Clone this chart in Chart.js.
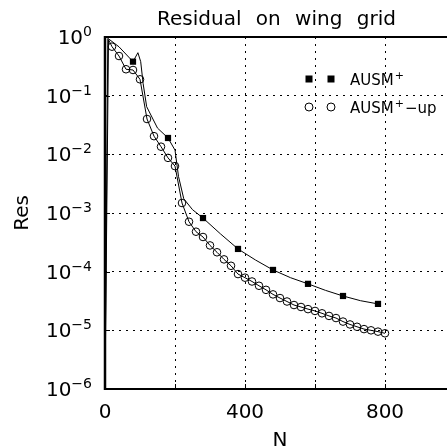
<!DOCTYPE html>
<html>
<head>
<meta charset="utf-8">
<script src="https://cdn.jsdelivr.net/npm/chart.js@4.4.1/dist/chart.umd.min.js"></script>
<style>
  html, body { margin: 0; padding: 0; background: #fff; overflow: hidden; }
  #wrap { position: relative; width: 470px; height: 448px; }
</style>
</head>
<body>
<div id="wrap"><canvas id="resChart" width="470" height="448"></canvas></div>
<script>
// Data
const titleText = 'Residual on wing grid';
const xTitle = 'N';
const yTitle = 'Res';
const xLabels = [0, 400, 800];
const yDecades = [1e-6, 1e-5, 1e-4, 1e-3, 1e-2, 1e-1, 1e0];

// AUSM+ : continuous curve, square markers every 100 iterations
const ausmN   = [0, 8, 40, 80, 94, 102, 109, 119, 150, 180, 200, 210, 225, 250, 280, 330, 380, 430, 480, 530, 580, 630, 680, 730, 780];
const ausmRes = [1e-6, 0.95, 0.68, 0.38, 0.54, 0.38, 0.16, 0.065, 0.028, 0.019, 0.0118, 0.0042, 0.00175, 0.00114, 0.00082,
                 0.00044, 0.000244, 0.000158, 0.000107, 0.000079, 0.000062, 0.000048, 0.0000385, 0.000032, 0.0000282];
const ausmMarked = [80, 180, 280, 380, 480, 580, 680, 780];

// AUSM+-up : circles every 20 iterations
const upN   = [0, 10, 20, 40, 60, 80, 100, 120, 140, 160, 180, 200, 220, 240, 260, 280, 300, 320, 340, 360, 380, 400,
               420, 440, 460, 480, 500, 520, 540, 560, 580, 600, 620, 640, 660, 680, 700, 720, 740, 760, 780, 800];
const upRes = [1e-6, 0.9, 0.684, 0.474, 0.282, 0.274, 0.19, 0.040, 0.0204, 0.0135, 0.0087, 0.0063, 0.00148, 0.00071,
               0.00048, 0.00039, 0.00028, 0.000214, 0.000162, 0.000126, 0.000091, 0.000079, 0.000068, 0.0000575,
               0.000049, 0.000041, 0.0000355, 0.000031, 0.000027, 0.000025, 0.000023, 0.0000214, 0.0000195,
               0.0000176, 0.0000162, 0.0000141, 0.0000126, 0.0000115, 0.0000105, 0.00001, 0.0000095, 0.0000089];

const FONT = '"DejaVu Sans", sans-serif';

function toPoints(xs, ys) {
    return xs.map((v, i) => ({ x: v, y: ys[i] }));
}

// draws the frame, tick labels, titles and legend
const decorPlugin = {
    id: 'decor',
    afterDraw(chart) {
        const { ctx, chartArea: a, scales } = chart;
        const xs = scales.x, ys = scales.y;
        ctx.save();
        ctx.strokeStyle = '#000';
        ctx.fillStyle = '#000';
        ctx.setLineDash([]);

        // frame (right side falls outside the window)
        ctx.lineWidth = 2;
        ctx.beginPath();
        ctx.moveTo(a.left, a.top); ctx.lineTo(a.right, a.top);
        ctx.moveTo(a.left, a.bottom); ctx.lineTo(a.right, a.bottom);
        ctx.stroke();
        ctx.lineWidth = 2.5;
        ctx.beginPath();
        ctx.moveTo(a.left, a.top - 1); ctx.lineTo(a.left, a.bottom + 1);
        ctx.stroke();

        // small inward ticks
        ctx.lineWidth = 1;
        ctx.beginPath();
        yDecades.forEach(v => {
            const py = Math.round(ys.getPixelForValue(v)) + 0.5;
            ctx.moveTo(a.left, py); ctx.lineTo(a.left + 5, py);
        });
        [200, 400, 600, 800].forEach(v => {
            const px = Math.round(xs.getPixelForValue(v)) + 0.5;
            ctx.moveTo(px, a.bottom); ctx.lineTo(px, a.bottom - 5);
        });
        ctx.stroke();

        // y tick labels 10^n
        ctx.textBaseline = 'alphabetic';
        yDecades.forEach(v => {
            const py = ys.getPixelForValue(v);
            const e = Math.round(Math.log10(v));
            const expText = e < 0 ? '\u2212' + (-e) : String(e);
            ctx.font = '14px ' + FONT;
            ctx.textAlign = 'right';
            ctx.fillText(expText, 92, py - 1);
            const ew = ctx.measureText(expText).width;
            ctx.font = '20px ' + FONT;
            ctx.fillText('10', 92 - ew, py + 7);
        });

        // x tick labels
        ctx.font = '20px ' + FONT;
        ctx.textAlign = 'center';
        xLabels.forEach(v => {
            ctx.fillText(String(v), xs.getPixelForValue(v), 418);
        });

        // axis titles
        ctx.fillText(xTitle, (a.left + a.right) / 2, 446);
        ctx.save();
        ctx.translate(28, (a.top + a.bottom) / 2);
        ctx.rotate(-Math.PI / 2);
        ctx.fillText(yTitle, 0, 0);
        ctx.restore();

        // title
        ctx.font = '20px ' + FONT;
        ctx.textAlign = 'left';
        ctx.wordSpacing = '8px';
        ctx.fillText(titleText, 157, 25);
        ctx.wordSpacing = '0px';

        // legend
        const drawSup = (base, sup, rest, x, y) => {
            ctx.textAlign = 'left';
            ctx.font = '15px ' + FONT;
            ctx.fillText(base, x, y);
            let cx = x + ctx.measureText(base).width + 1;
            ctx.font = '11px ' + FONT;
            ctx.fillText(sup, cx, y - 6);
            cx += ctx.measureText(sup).width + 1;
            if (rest) {
                ctx.font = '15px ' + FONT;
                ctx.fillText(rest, cx, y);
            }
        };
        [309, 331].forEach(mx => {
            ctx.fillRect(mx - 3.5, 79 - 3.5, 7, 7);
        });
        drawSup('AUSM', '+', '', 350, 85);
        ctx.lineWidth = 1;
        [309, 331].forEach(mx => {
            ctx.beginPath();
            ctx.arc(mx, 107, 4, 0, Math.PI * 2);
            ctx.stroke();
        });
        drawSup('AUSM', '+', '\u2212up', 350, 113);

        ctx.restore();
    }
};

const gridDash = [2, 5];

new Chart(document.getElementById('resChart'), {
    type: 'line',
    data: {
        datasets: [
            {
                label: 'AUSM+',
                data: toPoints(ausmN, ausmRes),
                borderColor: '#000',
                borderWidth: 1,
                tension: 0,
                pointStyle: 'rect',
                pointRadius: c => ausmMarked.includes(ausmN[c.dataIndex]) ? 4.4 : 0,
                pointBackgroundColor: '#000',
                pointBorderColor: '#000',
                pointBorderWidth: 0
            },
            {
                label: 'AUSM+-up',
                data: toPoints(upN, upRes),
                borderColor: '#000',
                borderWidth: 1,
                tension: 0,
                pointStyle: 'circle',
                pointRadius: c => (upN[c.dataIndex] >= 20 && upN[c.dataIndex] % 20 === 0) ? 3.8 : 0,
                pointBackgroundColor: 'rgba(0,0,0,0)',
                pointBorderColor: '#000',
                pointBorderWidth: 1
            }
        ]
    },
    options: {
        responsive: false,
        animation: false,
        events: [],
        layout: { padding: { left: 0, top: 37, right: 15, bottom: 0 } },
        plugins: {
            legend: { display: false },
            title: { display: false },
            tooltip: { enabled: false }
        },
        scales: {
            x: {
                type: 'linear',
                min: 0,
                max: 1000,
                ticks: { display: false, stepSize: 200 },
                grid: {
                    drawTicks: false,
                    color: c => (c.tick && (c.tick.value === 0 || c.tick.value === 1000)) ? 'rgba(0,0,0,0)' : '#000',
                    lineWidth: 1
                },
                border: { display: false, dash: gridDash },
                afterFit: s => { s.height = 59; }
            },
            y: {
                type: 'logarithmic',
                min: 1e-6,
                max: 1,
                afterBuildTicks: s => { s.ticks = yDecades.map(v => ({ value: v })); },
                ticks: { display: false },
                grid: {
                    drawTicks: false,
                    color: c => (c.tick && (c.tick.value === 1e-6 || c.tick.value === 1)) ? 'rgba(0,0,0,0)' : '#000',
                    lineWidth: 1
                },
                border: { display: false, dash: gridDash },
                afterFit: s => { s.width = 105; }
            }
        }
    },
    plugins: [decorPlugin]
});
</script>
</body>
</html>
